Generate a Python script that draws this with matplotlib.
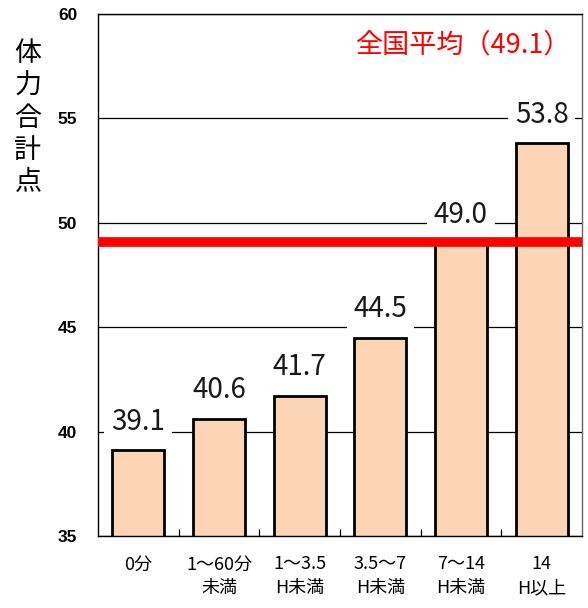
import matplotlib
matplotlib.use("Agg")
import matplotlib.pyplot as plt
import numpy as np

plt.rcParams["font.family"] = ["Noto Sans CJK JP", "DejaVu Sans"]

categories = ["0分", "1～60分\n未満", "1～3.5\nH未満", "3.5～7\nH未満", "7～14\nH未満", "14\nH以上"]
values = [39.1, 40.6, 41.7, 44.5, 49.0, 53.8]
national_avg = 49.1
yticks = [35, 40, 45, 50, 55, 60]

fig = plt.figure(figsize=(5.88, 6.08), dpi=100)
ax = fig.add_axes([98 / 588, 1 - 536 / 608, 484 / 588, 522 / 608])

x = np.arange(len(categories))
ax.bar(x, values, width=0.645, color="#FBD5B5", edgecolor="black", linewidth=2, zorder=2)

for xi, v in zip(x, values):
    ax.text(xi, v + 1.0, f"{v:.1f}", ha="center", va="baseline", fontsize=20,
            color="#1a1a1a", zorder=3,
            bbox=dict(facecolor="white", edgecolor="none", pad=5))

ax.axhline(national_avg, color="#FF0000", linewidth=7, zorder=4)
ax.text(5.36, 58.5, f"全国平均（{national_avg}）", ha="right", va="center",
        fontsize=19.5, color="#FF0000")

ax.set_ylim(35, 60)
ax.set_xlim(-0.5, len(categories) - 0.5)
ax.set_yticks(yticks)
ax.set_yticklabels([str(t) for t in yticks], fontsize=12.5, fontweight="bold",
                   family=["Liberation Sans", "DejaVu Sans"])
ax.tick_params(axis="y", length=0, pad=15)
ax.yaxis.grid(True, color="black", linewidth=0.9, zorder=0)
ax.set_axisbelow(True)

ax.set_xticks(x)
ax.set_xticklabels(categories, fontsize=13, linespacing=1.4)
ax.tick_params(axis="x", length=0, pad=14)
ax.set_xticks(x[:-1] + 0.5, minor=True)
ax.tick_params(axis="x", which="minor", direction="in", length=5, width=0.9)

for s in ax.spines.values():
    s.set_linewidth(1.0)
ax.spines["right"].set_color("#666666")

fig.text(28 / 588, 1 - 118 / 608, "\n".join("体力合計点"), ha="center", va="center",
         fontsize=19.5, linespacing=1.25)

fig.savefig("out.png", dpi=100)
